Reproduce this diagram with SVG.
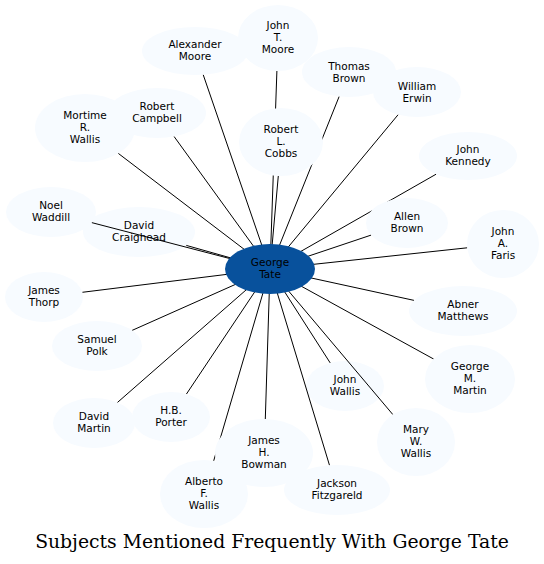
<svg xmlns="http://www.w3.org/2000/svg" width="544" height="564" viewBox="0 0 544 564">
<style>
.n ellipse{fill:#f7fbff;stroke:none}
.c ellipse{fill:#08519c;stroke:none}
text{font-family:"DejaVu Sans","Liberation Sans",sans-serif;font-size:10.5px;fill:#000;text-anchor:middle}
.e line{stroke:#000;stroke-width:1}
.title{font-family:"DejaVu Serif","Liberation Serif",serif;font-size:18.8px}
</style>
<rect width="544" height="564" fill="#fff"/>
<g id="n_david_craighead" class="n"><ellipse cx="139" cy="232" rx="56" ry="25"/><text x="139" y="229">David</text><text x="139" y="241">Craighead</text></g>
<g id="n_john_wallis" class="n"><ellipse cx="345" cy="386" rx="39" ry="25"/><text x="345" y="383">John</text><text x="345" y="395">Wallis</text></g>
<g id="edges" class="e">
<line x1="270" y1="269" x2="203.2" y2="74.7"/>
<line x1="270" y1="269" x2="276.9" y2="71"/>
<line x1="270" y1="269" x2="339.2" y2="96.4"/>
<line x1="270" y1="269" x2="398.2" y2="114.6"/>
<line x1="270" y1="269" x2="436.1" y2="174.2"/>
<line x1="270" y1="269" x2="118.3" y2="153.4"/>
<line x1="270" y1="269" x2="174" y2="136.4"/>
<line x1="270" y1="269" x2="278.3" y2="175.9"/>
<line x1="270" y1="269" x2="91.7" y2="222.6"/>
<line x1="270" y1="269" x2="186.3" y2="245.4"/>
<line x1="270" y1="269" x2="82.3" y2="292.3"/>
<line x1="270" y1="269" x2="132.1" y2="330.4"/>
<line x1="270" y1="269" x2="371.1" y2="235.1"/>
<line x1="270" y1="269" x2="467.2" y2="247.8"/>
<line x1="270" y1="269" x2="414.1" y2="300.4"/>
<line x1="270" y1="269" x2="433.6" y2="359"/>
<line x1="270" y1="269" x2="330.2" y2="362.9"/>
<line x1="270" y1="269" x2="392.9" y2="414.6"/>
<line x1="270" y1="269" x2="329.5" y2="465.3"/>
<line x1="270" y1="269" x2="265.3" y2="419"/>
<line x1="270" y1="269" x2="213.7" y2="460.8"/>
<line x1="270" y1="269" x2="186.4" y2="394.1"/>
<line x1="270" y1="269" x2="117.4" y2="402.5"/>
</g>
<g id="n_alexander_moore" class="n"><ellipse cx="195" cy="51" rx="53" ry="24"/><text x="195" y="48">Alexander</text><text x="195" y="60">Moore</text></g>
<g id="n_john_t_moore" class="n"><ellipse cx="278" cy="38" rx="40" ry="33"/><text x="278" y="29">John</text><text x="278" y="41">T.</text><text x="278" y="53">Moore</text></g>
<g id="n_thomas_brown" class="n"><ellipse cx="349" cy="72" rx="47" ry="25"/><text x="349" y="70">Thomas</text><text x="349" y="82">Brown</text></g>
<g id="n_william_erwin" class="n"><ellipse cx="417" cy="92" rx="44" ry="25"/><text x="417" y="90">William</text><text x="417" y="102">Erwin</text></g>
<g id="n_john_kennedy" class="n"><ellipse cx="468" cy="156" rx="49" ry="24"/><text x="468" y="153">John</text><text x="468" y="165">Kennedy</text></g>
<g id="n_mortime_r_wallis" class="n"><ellipse cx="85" cy="128" rx="50" ry="34"/><text x="85" y="119">Mortime</text><text x="85" y="131">R.</text><text x="85" y="143">Wallis</text></g>
<g id="n_robert_campbell" class="n"><ellipse cx="157" cy="113" rx="49" ry="25"/><text x="157" y="110">Robert</text><text x="157" y="122">Campbell</text></g>
<g id="n_robert_l_cobbs" class="n"><ellipse cx="281" cy="142" rx="42" ry="34"/><text x="281" y="133">Robert</text><text x="281" y="145">L.</text><text x="281" y="157">Cobbs</text></g>
<g id="n_noel_waddill" class="n"><ellipse cx="51" cy="212" rx="45" ry="25"/><text x="51" y="209">Noel</text><text x="51" y="221">Waddill</text></g>
<g id="n_james_thorp" class="n"><ellipse cx="44" cy="297" rx="39" ry="25"/><text x="44" y="294">James</text><text x="44" y="306">Thorp</text></g>
<g id="n_samuel_polk" class="n"><ellipse cx="97" cy="346" rx="45" ry="25"/><text x="97" y="343">Samuel</text><text x="97" y="355">Polk</text></g>
<g id="n_allen_brown" class="n"><ellipse cx="407" cy="223" rx="41" ry="25"/><text x="407" y="220">Allen</text><text x="407" y="232">Brown</text></g>
<g id="n_john_a_faris" class="n"><ellipse cx="503" cy="244" rx="36" ry="34"/><text x="503" y="235">John</text><text x="503" y="247">A.</text><text x="503" y="259">Faris</text></g>
<g id="n_abner_matthews" class="n"><ellipse cx="463" cy="311" rx="54" ry="25"/><text x="463" y="308">Abner</text><text x="463" y="320">Matthews</text></g>
<g id="n_george_m_martin" class="n"><ellipse cx="470" cy="379" rx="45" ry="34"/><text x="470" y="370">George</text><text x="470" y="382">M.</text><text x="470" y="394">Martin</text></g>
<g id="n_mary_w_wallis" class="n"><ellipse cx="416" cy="442" rx="39" ry="34"/><text x="416" y="433">Mary</text><text x="416" y="445">W.</text><text x="416" y="457">Wallis</text></g>
<g id="n_jackson_fitzgareld" class="n"><ellipse cx="337" cy="490" rx="53" ry="25"/><text x="337" y="487">Jackson</text><text x="337" y="499">Fitzgareld</text></g>
<g id="n_james_h_bowman" class="n"><ellipse cx="264" cy="453" rx="49" ry="34"/><text x="264" y="444">James</text><text x="264" y="456">H.</text><text x="264" y="468">Bowman</text></g>
<g id="n_alberto_f_wallis" class="n"><ellipse cx="204" cy="494" rx="44" ry="34"/><text x="204" y="485">Alberto</text><text x="204" y="497">F.</text><text x="204" y="509">Wallis</text></g>
<g id="n_hb_porter" class="n"><ellipse cx="171" cy="417" rx="39" ry="25"/><text x="171" y="414">H.B.</text><text x="171" y="426">Porter</text></g>
<g id="n_david_martin" class="n"><ellipse cx="94" cy="423" rx="41" ry="25"/><text x="94" y="420">David</text><text x="94" y="432">Martin</text></g>
<g id="n_george_tate" class="c"><ellipse cx="270" cy="269" rx="45" ry="25"/><text x="270" y="266">George</text><text x="270" y="278">Tate</text></g>
<text class="title" x="272" y="548">Subjects Mentioned Frequently With George Tate</text>
</svg>
